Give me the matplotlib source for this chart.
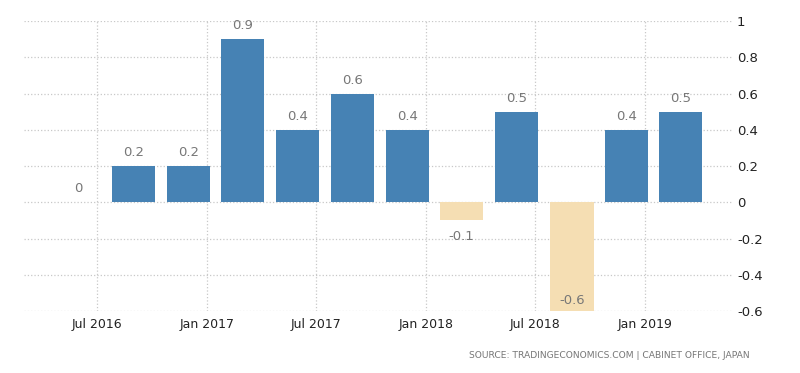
import matplotlib.pyplot as plt
import matplotlib.dates as mdates
import numpy as np
import datetime as dt

# Japan GDP growth rate (QoQ), quarterly
quarters = ['2016-06-01', '2016-09-01', '2016-12-01', '2017-03-01',
            '2017-06-01', '2017-09-01', '2017-12-01', '2018-03-01',
            '2018-06-01', '2018-09-01', '2018-12-01', '2019-03-01']
values = [0, 0.2, 0.2, 0.9, 0.4, 0.6, 0.4, -0.1, 0.5, -0.6, 0.4, 0.5]
tick_dates = ['2016-07-01', '2017-01-01', '2017-07-01',
              '2018-01-01', '2018-07-01', '2019-01-01']
tick_labels = ['Jul 2016', 'Jan 2017', 'Jul 2017', 'Jan 2018', 'Jul 2018', 'Jan 2019']
y_ticks = [1, 0.8, 0.6, 0.4, 0.2, 0, -0.2, -0.4, -0.6]
source = 'SOURCE: TRADINGECONOMICS.COM | CABINET OFFICE, JAPAN'

x = mdates.date2num([dt.datetime.strptime(q, '%Y-%m-%d') for q in quarters])
xt = mdates.date2num([dt.datetime.strptime(t, '%Y-%m-%d') for t in tick_dates])

fig = plt.figure(figsize=(8, 3.73), dpi=100)
ax = fig.add_axes([0.03, 0.1662, 0.886, 0.7775])

colors = ['#4682b4' if v >= 0 else '#f5deb3' for v in values]
ax.bar(x, values, width=72, color=colors, zorder=3)

ax.set_xlim(mdates.date2num(dt.datetime(2016, 3, 2)), mdates.date2num(dt.datetime(2019, 5, 27)))
ax.set_ylim(-0.6, 1.0)

ax.set_xticks(xt)
ax.set_xticklabels(tick_labels, fontsize=9, color='#222222')
ax.set_yticks(y_ticks)
ax.set_yticklabels([f'{t:g}' for t in y_ticks], fontsize=9.5, color='#222222')
ax.yaxis.tick_right()
ax.tick_params(axis='both', length=0)
ax.tick_params(axis='x', pad=5)
ax.tick_params(axis='y', pad=3)

for s in ax.spines.values():
    s.set_visible(False)
ax.grid(True, linestyle=':', color='#c8c8c8', linewidth=0.9, zorder=0)

# value labels
for xi, v in zip(x, values):
    lab = f'{v:g}'
    if v >= 0:
        ax.annotate(lab, (xi, v), xytext=(0, 5), textcoords='offset points',
                    ha='center', va='bottom', fontsize=9.5, color='#777777')
    elif v - 0.1 < -0.6:
        ax.annotate(lab, (xi, v), xytext=(0, 3), textcoords='offset points',
                    ha='center', va='bottom', fontsize=9.5, color='#777777', zorder=4)
    else:
        ax.annotate(lab, (xi, v), xytext=(0, -7), textcoords='offset points',
                    ha='center', va='top', fontsize=9.5, color='#777777')

fig.text(750 / 800, 1 - 356 / 373, source, ha='right', va='center',
         fontsize=6.6, color='#777777')

fig.savefig('out.png', dpi=100)
